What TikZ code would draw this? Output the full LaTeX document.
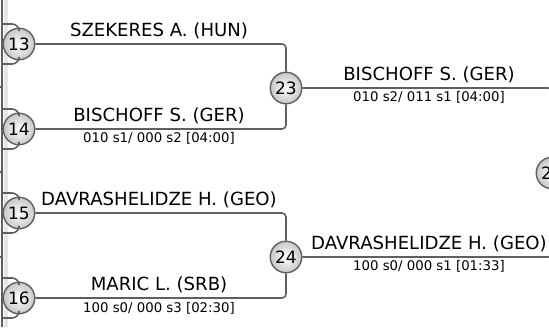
\documentclass[tikz,border=0pt]{standalone}
\usepackage{fontspec}
\setmainfont{DejaVu Sans}
\usepackage{tikz}
\usetikzlibrary{positioning}
\definecolor{linegray}{HTML}{5F5F5F}
\definecolor{bandgray}{HTML}{E6E6E6}
\tikzstyle{match}=[circle, draw=linegray, line width=1.4pt, minimum size=31.5pt, inner sep=0pt,
    inner color=white, outer color=black!22, font=\fontsize{17}{19}\selectfont]
\tikzstyle{bracket_line}=[draw=linegray, line width=1.6pt, rounded corners=4pt]
\tikzstyle{feed_line}=[draw=linegray, line width=1.6pt, rounded corners=7pt]
\tikzstyle{player_name}=[anchor=base, inner sep=0pt, font=\fontsize{18.1}{20}\selectfont]
\tikzstyle{match_score}=[anchor=base, inner sep=0pt, font=\fontsize{13.3}{15}\selectfont]

\begin{document}
\begin{tikzpicture}[x=1pt, y=-1pt]
              \useasboundingbox (0,0) rectangle (549,327);
              \clip (0,0) rectangle (549,327);
              % left edge
              \fill[bandgray] (4,0) rectangle (8,327);
              \coordinate (edge_top) at (2,0);
              \coordinate (edge_bot) at (2,327);
              \draw[bracket_line](edge_top) -- (edge_bot);
              \foreach \y/\i in {87/a,172/b,257/c}{
                \coordinate (tick\i) at (0,\y);
                \draw[draw=linegray, line width=1.2pt](tick\i) -- (edge_top |- tick\i);
              }
              % matches
              \node[match] (mid13) at (19,44){13};
              \node[match] (mid14) at (19,129){14};
              \node[match] (mid15) at (19,213){15};
              \node[match] (mid16) at (19,298){16};
              \node[match] (mid23) at (286,88){23};
              \node[match] (mid24) at (286,257){24};
              \node[match] (mid28) at (552,173){28};
              % lines from the previous round
              \foreach \m/\a/\b in {13/24/64,14/109/149,15/193/233,16/278/318}{
                \coordinate (in\m a) at (2,\a);
                \coordinate (in\m b) at (2,\b);
                \draw[feed_line](in\m a) -| (mid\m);
                \draw[feed_line](in\m b) -| (mid\m);
              }
              \draw[bracket_line](mid13) -| (mid23);
              \draw[bracket_line](mid14) -| (mid23);
              \draw[bracket_line](mid15) -| (mid24);
              \draw[bracket_line](mid16) -| (mid24);
              \draw[bracket_line](mid23) -| (mid28);
              \draw[bracket_line](mid24) -| (mid28);
              % names and scores
              \node[player_name] (name13) at (159,36.5){SZEKERES A. (HUN)};
              \node[player_name] (name14) at (159,121.5){BISCHOFF S. (GER)};
              \node[match_score] (score14) at (159,142){010 s1/ 000 s2 [04:00]};
              \node[player_name] (name15) at (159,205.5){DAVRASHELIDZE H. (GEO)};
              \node[player_name] (name16) at (159,290.5){MARIC L. (SRB)};
              \node[match_score] (score16) at (159,312){100 s0/ 000 s3 [02:30]};
              \node[player_name] (name23) at (429,80.5){BISCHOFF S. (GER)};
              \node[match_score] (score23) at (429,101){010 s2/ 011 s1 [04:00]};
              \node[player_name] (name24) at (429,249.5){DAVRASHELIDZE H. (GEO)};
              \node[match_score] (score24) at (429,270){100 s0/ 000 s1 [01:33]};
            \end{tikzpicture}
\end{document}
